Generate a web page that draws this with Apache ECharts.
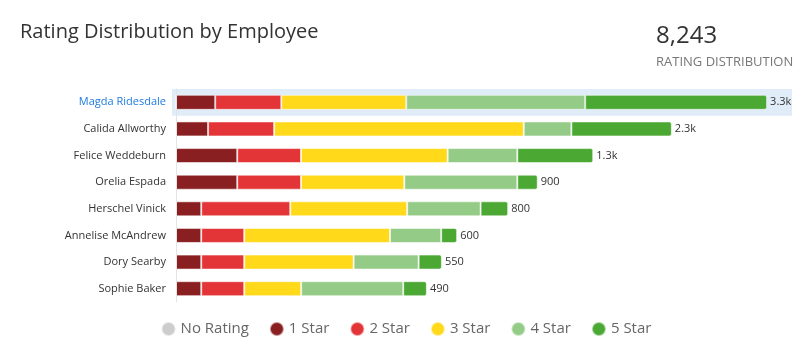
<!DOCTYPE html>
<html>
<head>
<meta charset="utf-8">
<script src="https://cdn.jsdelivr.net/npm/echarts@6/dist/echarts.min.js"></script>
<style>
html,body{margin:0;padding:0;background:#fff;}
#c{width:812px;height:358px;}
</style>
</head>
<body>
<div id="c"></div>
<script>
const employees = ['Magda Ridesdale','Calida Allworthy','Felice Weddeburn','Orelia Espada','Herschel Vinick','Annelise McAndrew','Dory Searby','Sophie Baker'];
const noRating = [0,0,0,0,0,0,0,0];
const star1 = [219,179,342,342,141,141,141,141];
const star2 = [369,369,356,356,497,240,240,240];
const star3 = [698,1394,819,577,653,814,611,318];
const star4 = [999,266,389,631,410,286,363,570];
const star5 = [1016,561,424,114,154,89,130,132];
const totalLabels = ['3.3k','2.3k','1.3k','900','800','600','550','490'];
const highlighted = 'Magda Ridesdale';
const totalCount = '8,243';

const FONT = "'Open Sans', sans-serif";
const colors = {
  'No Rating':'#cccccc','1 Star':'#8a1f22','2 Star':'#e33537',
  '3 Star':'#ffd91a','4 Star':'#94cb87','5 Star':'#4ba833'
};
const seriesData = [
  ['No Rating', noRating],['1 Star', star1],['2 Star', star2],
  ['3 Star', star3],['4 Star', star4],['5 Star', star5]
];

const chart = echarts.init(document.getElementById('c'));
const series = [{
  name:'highlight', type:'bar', xAxisIndex:1, yAxisIndex:1,
  barWidth:'100%', silent:true, z:0,
  itemStyle:{color:'#e0ecf8'},
  data: employees.map(e => e === highlighted ? 1 : '-')
}];
seriesData.forEach(([name, vals], i) => {
  const last = i === seriesData.length - 1;
  series.push({
    name, type:'bar', stack:'total', barWidth:15, z:2,
    itemStyle:{
      color:colors[name],
      borderColor:'rgba(255,255,255,0.55)', borderWidth:1,
      borderRadius: last ? [0,2,2,0] : 0
    },
    label: last ? {
      show:true, position:'right', distance:3,
      fontFamily:FONT, fontSize:11, color:'#333',
      formatter: p => totalLabels[p.dataIndex]
    } : {show:false},
    data: vals
  });
});

chart.setOption({
  animation:false,
  title:[
    {text:'Rating Distribution by Employee', left:20, top:22, padding:0,
     textStyle:{fontFamily:FONT, fontSize:20, fontWeight:'normal', color:'#333'}},
    {text:totalCount, left:656, top:24, padding:0,
     textStyle:{fontFamily:FONT, fontSize:24, fontWeight:'normal', color:'#333'}},
    {text:'RATING DISTRIBUTION', left:656, top:56, padding:0,
     textStyle:{fontFamily:FONT, fontSize:13, fontWeight:'normal', color:'#777'}}
  ],
  legend:{
    bottom:16, left:'center', icon:'circle', itemWidth:14, itemHeight:14, itemGap:20,
    textStyle:{fontFamily:FONT, fontSize:15, color:'#666'},
    data: seriesData.map(s => s[0])
  },
  grid:[
    {left:176, right:20, top:89, height:213},
    {left:172, right:20, top:89, height:213}
  ],
  xAxis:[
    {type:'value', gridIndex:0, min:0, max:3440, show:false},
    {type:'value', gridIndex:1, min:0, max:1, show:false}
  ],
  yAxis:[
    {type:'category', gridIndex:0, data:employees, inverse:true, z:3,
     axisTick:{show:false},
     axisLine:{show:true, lineStyle:{color:'#e4e4e4'}},
     axisLabel:{margin:10, fontFamily:FONT, fontSize:11, color:'#333',
       formatter: v => v === highlighted ? '{h|' + v + '}' : v,
       rich:{h:{color:'#1f7ae0', fontFamily:FONT, fontSize:11}}}},
    {type:'category', gridIndex:1, data:employees, inverse:true, show:false}
  ],
  series
});
</script>
</body>
</html>
